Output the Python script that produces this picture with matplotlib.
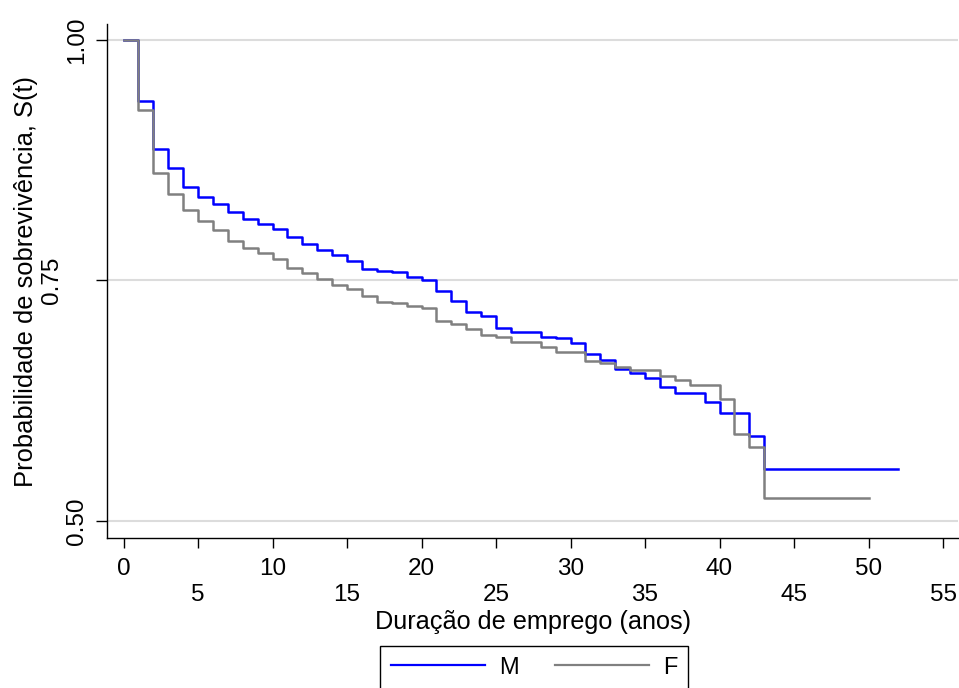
import matplotlib
matplotlib.use("Agg")
import matplotlib.pyplot as plt
from matplotlib.lines import Line2D

plt.rcParams['font.family'] = ['Liberation Sans', 'DejaVu Sans']

# Kaplan-Meier estimates (step times in years)
t_m = [0, 1, 2, 3, 4, 5, 6, 7, 8, 9, 10, 11, 12, 13, 14, 15, 16, 17, 18, 19,
       20, 21, 22, 23, 24, 25, 26, 28, 29, 30, 31, 32, 33, 34, 35, 36, 37, 39,
       40, 42, 43, 52]
s_m = [1.0, 0.937, 0.887, 0.867, 0.847, 0.837, 0.829, 0.821, 0.814, 0.809,
       0.804, 0.795, 0.788, 0.782, 0.776, 0.770, 0.7616, 0.760, 0.7585, 0.754,
       0.7505, 0.7394, 0.729, 0.7176, 0.713, 0.7006, 0.696, 0.6916, 0.690,
       0.6853, 0.6733, 0.6674, 0.658, 0.6535, 0.649, 0.6393, 0.633, 0.624,
       0.6126, 0.5887, 0.554, 0.554]

t_f = [0, 1, 2, 3, 4, 5, 6, 7, 8, 9, 10, 11, 12, 13, 14, 15, 16, 17, 18, 19,
       20, 21, 22, 23, 24, 25, 26, 28, 29, 31, 32, 33, 34, 36, 37, 38, 40, 41,
       42, 43, 50]
s_f = [1.0, 0.927, 0.862, 0.840, 0.823, 0.812, 0.802, 0.791, 0.7835, 0.779,
       0.772, 0.763, 0.7575, 0.752, 0.7453, 0.741, 0.734, 0.7277, 0.7263,
       0.7235, 0.721, 0.708, 0.705, 0.700, 0.693, 0.6916, 0.6865, 0.6806,
       0.6754, 0.6663, 0.664, 0.660, 0.657, 0.6507, 0.6466, 0.6417, 0.6268,
       0.590, 0.5767, 0.5236, 0.5236]

x_major = [0, 10, 20, 30, 40, 50]
x_minor = [5, 15, 25, 35, 45, 55]
y_major = [0.50, 1.00]
y_minor = [0.75]

fig = plt.figure(figsize=(9.59, 6.88), dpi=100)
ax = fig.add_axes([0.1119, 0.2176, 0.887, 0.7471])

ax.step(t_m, s_m, where='post', color='#0000FF', lw=1.8, zorder=3)
ax.step(t_f, s_f, where='post', color='#808080', lw=1.8, zorder=3)

ax.set_xlim(-1.087, 56.0)
ax.set_ylim(0.482, 1.0163)

# Stata style alternating tick labels
ax.set_xticks(x_major)
ax.set_xticklabels([str(v) for v in x_major])
ax.set_xticks(x_minor, minor=True)
ax.set_xticklabels([str(v) for v in x_minor], minor=True)
ax.set_yticks(y_major)
ax.set_yticklabels(['%.2f' % v for v in y_major], rotation=90, va='center')
ax.set_yticks(y_minor, minor=True)
ax.set_yticklabels(['%.2f' % v for v in y_minor], minor=True, rotation=90, va='center')

ax.tick_params(axis='x', which='both', length=7.2, width=1.0, labelsize=17.5)
ax.tick_params(axis='x', which='major', pad=7.2)
ax.tick_params(axis='x', which='minor', pad=25.7)
ax.tick_params(axis='y', which='both', length=7.6, width=1.0, labelsize=17.5)
ax.tick_params(axis='y', which='major', pad=6.5)
ax.tick_params(axis='y', which='minor', pad=24)

ax.grid(axis='y', which='both', color='#DCDCDC', lw=1.5, zorder=0)

for side in ['top', 'right']:
    ax.spines[side].set_visible(False)
for side in ['left', 'bottom']:
    ax.spines[side].set_linewidth(1.0)

ax.set_xlabel('Duração de emprego (anos)', fontsize=18.2)
ax.xaxis.set_label_coords(0.5, -0.1396)
ax.set_ylabel('Probabilidade de sobrevivência, S(t)', fontsize=18.4)
ax.yaxis.set_label_coords(-0.0815, 0.5)

handles = [Line2D([], [], color='#0000FF', lw=1.6),
           Line2D([], [], color='#808080', lw=1.6)]
leg = fig.legend(handles, ['M', 'F'], loc='upper center',
                 bbox_to_anchor=(534.2 / 959, 1 - 645.7 / 688), ncol=2,
                 fontsize=17, handlelength=4.0, handletextpad=0.6,
                 columnspacing=1.5, borderpad=0.46, borderaxespad=0,
                 fancybox=False, edgecolor='black', framealpha=1)
leg.get_frame().set_linewidth(1.0)

fig.savefig('out.png', dpi=100)
